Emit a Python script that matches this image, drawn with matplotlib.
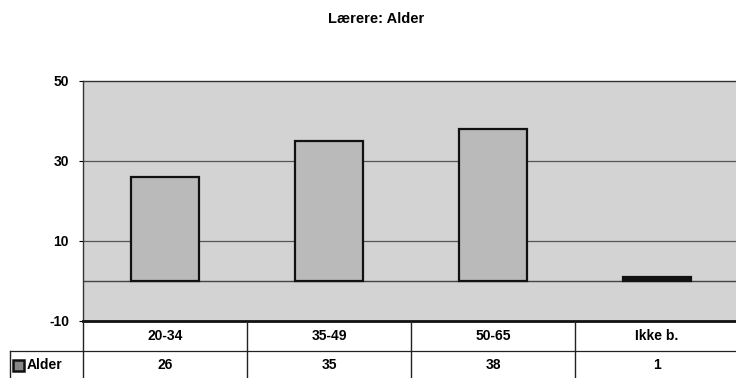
import matplotlib
matplotlib.use("Agg")
import matplotlib.pyplot as plt
from matplotlib.patches import Rectangle

categories = ["20-34", "35-49", "50-65", "Ikke b."]
values = [26, 35, 38, 1]
yticks = [-10, 10, 30, 50]
series_name = "Alder"
title = "Lærere: Alder"

W, H = 736, 378
fig = plt.figure(figsize=(W / 100, H / 100), dpi=100)
plt.rcParams['font.family'] = ['Liberation Sans', 'DejaVu Sans']
FS = 10

def fx(px):
    return px / W

def fy(py):
    return 1 - py / H

left, right, top, bottom = 83, 739, 81, 321
ax = fig.add_axes([fx(left), fy(bottom), fx(right - left), (bottom - top) / H])
ax.set_facecolor("#d3d3d3")
x = list(range(len(categories)))
colors = ["#bababa"] * (len(values) - 1) + ["#111111"]
ax.bar(x, values, width=0.41, color=colors, edgecolor="#111111", linewidth=1.6, zorder=3)
ax.set_xlim(-0.5, len(categories) - 0.5)
ax.set_ylim(-10, 50)
ax.set_yticks(yticks)
ax.set_yticklabels([str(v) for v in yticks], fontsize=FS, fontweight="bold")
ax.set_xticks([])
for g in [10, 30]:
    ax.axhline(g, color="#555555", linewidth=0.9, zorder=1)
ax.axhline(0, color="#444444", linewidth=1.0, zorder=1)
ax.tick_params(axis="y", length=3, width=0.8, pad=7)
for s in ["left", "top", "right"]:
    ax.spines[s].set_linewidth(1.0)
    ax.spines[s].set_color("#333333")
ax.spines["bottom"].set_linewidth(2.0)
ax.spines["bottom"].set_color("#111111")

fig.text(fx(376), fy(19), title, ha="center", va="center", fontsize=FS + 0.5, fontweight="bold")

# data table below the axes
tab = fig.add_axes([fx(left), fy(390), fx(right - left), (390 - bottom) / H])
tab.set_xlim(-0.5, len(categories) - 0.5)
tab.set_ylim(390, bottom)
tab.axis("off")
row_mid = 351
for i in range(len(categories) + 1):
    tab.plot([i - 0.5, i - 0.5], [bottom, 390], color="#222222", linewidth=1.0, clip_on=False)
tab.plot([-0.5, len(categories) - 0.5], [row_mid, row_mid], color="#222222", linewidth=0.9, clip_on=False)
for i, (c, v) in enumerate(zip(categories, values)):
    tab.text(i, 336, c, ha="center", va="center", fontsize=FS, fontweight="bold")
    tab.text(i, 365, str(v), ha="center", va="center", fontsize=FS, fontweight="bold")

# header cell for series
fig.add_artist(plt.Line2D([fx(10), fx(left)], [fy(row_mid), fy(row_mid)], color="#222222", linewidth=0.9))
fig.add_artist(plt.Line2D([fx(10), fx(10)], [fy(row_mid), fy(390)], color="#222222", linewidth=1.0))
fig.add_artist(Rectangle((fx(13), fy(371)), fx(11), 11 / H, facecolor="#888888",
                         edgecolor="#111111", linewidth=1.8, transform=fig.transFigure))
fig.text(fx(27), fy(365), series_name, ha="left", va="center", fontsize=FS, fontweight="bold")

fig.savefig("out.png", dpi=100)
